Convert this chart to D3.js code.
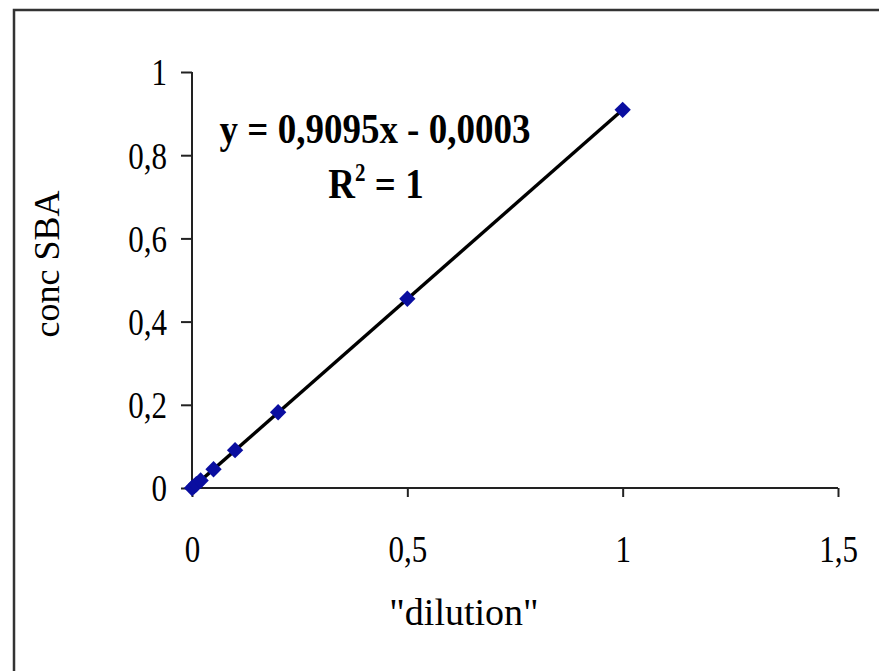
<!DOCTYPE html>
<html>
<head>
<meta charset="utf-8">
<script src="https://cdn.jsdelivr.net/npm/d3@7"></script>
<style>
  html, body { margin: 0; padding: 0; background: #fff; }
  svg { display: block; }
</style>
</head>
<body>
<svg id="chart" width="879" height="671"></svg>
<script>
// Calibration points: dilution factor vs. measured SBA concentration
const dilution = [0, 0.005, 0.01, 0.02, 0.05, 0.1, 0.2, 0.5, 1];
const concSBA  = [0, 0.004, 0.009, 0.018, 0.045, 0.091, 0.182, 0.455, 0.909];

// Linear trendline (least squares) as reported on the chart
const slope = 0.9095;
const intercept = -0.0003;
const trendRange = [0, 1];

const xTicks = [0, 0.5, 1, 1.5];
const yTicks = [0, 0.2, 0.4, 0.6, 0.8, 1];

const SERIF = '"Liberation Serif", "Times New Roman", Times, serif';
const fmt = d => String(d).replace(".", ",");
const TALL = 1.25;   // tick labels are drawn slightly condensed (tall) like the Excel original

const svg = d3.select("#chart")
  .attr("font-family", SERIF);

// Chart frame
svg.append("rect")
  .attr("x", 14).attr("y", 10)
  .attr("width", 900).attr("height", 700)
  .attr("fill", "none").attr("stroke", "#333").attr("stroke-width", 2.5);

const x = d3.scaleLinear().domain([0, 1.5]).range([192, 838]);
const y = d3.scaleLinear().domain([0, 1]).range([488, 72]);

// Axes
const xAxis = svg.append("g").attr("transform", `translate(0,${y(0)})`)
  .call(d3.axisBottom(x).tickValues(xTicks).tickSize(9).tickFormat(fmt));
const yAxis = svg.append("g").attr("transform", `translate(${x(0)},0)`)
  .call(d3.axisLeft(y).tickValues(yTicks).tickSize(11).tickPadding(14).tickFormat(fmt));

[xAxis, yAxis].forEach(g => {
  g.attr("font-family", SERIF).attr("font-size", 31);
  g.select(".domain").attr("stroke", "#222").attr("stroke-width", 2);
  g.selectAll(".tick line").attr("stroke", "#222").attr("stroke-width", 2);
  g.selectAll(".tick text").attr("fill", "#000");
});

// Taller tick labels: x labels sit with their baseline 74px below the axis
xAxis.selectAll(".tick text")
  .attr("transform", `scale(1,${TALL})`)
  .attr("y", 74 / TALL).attr("dy", 0);
yAxis.selectAll(".tick text")
  .attr("transform", `scale(1,${TALL})`)
  .attr("dy", "0.33em");

// Axis lines end exactly at the outer ticks
xAxis.select(".domain").attr("d", `M${x(0)},0H${x(1.5)}`);
yAxis.select(".domain").attr("d", `M0,${y(0)}V${y(1)}`);

// Trendline
svg.append("line")
  .attr("x1", x(trendRange[0])).attr("y1", y(slope * trendRange[0] + intercept))
  .attr("x2", x(trendRange[1])).attr("y2", y(slope * trendRange[1] + intercept))
  .attr("stroke", "#000").attr("stroke-width", 3.4);

// Data markers (diamonds)
svg.append("g").selectAll("path")
  .data(dilution.map((d, i) => [d, concSBA[i]]))
  .join("path")
  .attr("transform", d => `translate(${x(d[0])},${y(d[1])})`)
  .attr("d", d3.symbol(d3.symbolDiamond2, 170))
  .attr("fill", "#0a0ea0");

// Axis titles
svg.append("text")
  .attr("x", 464).attr("y", 625)
  .attr("text-anchor", "middle")
  .attr("font-size", 38)
  .text('"dilution"');

svg.append("text")
  .attr("transform", "translate(59,264) rotate(-90)")
  .attr("text-anchor", "middle")
  .attr("font-size", 36)
  .text("conc SBA");

// Regression equation
svg.append("text")
  .attr("transform", "translate(375,143) scale(1,1.15)")
  .attr("text-anchor", "middle")
  .attr("font-size", 37).attr("font-weight", "bold")
  .text("y = 0,9095x - 0,0003");

const r2 = svg.append("text")
  .attr("transform", "translate(376,198) scale(1,1.15)")
  .attr("text-anchor", "middle")
  .attr("font-size", 37).attr("font-weight", "bold");
r2.append("tspan").text("R");
r2.append("tspan").attr("dy", -15).attr("font-size", 21).text("2");
r2.append("tspan").attr("dy", 15).text(" = 1");
</script>
</body>
</html>
